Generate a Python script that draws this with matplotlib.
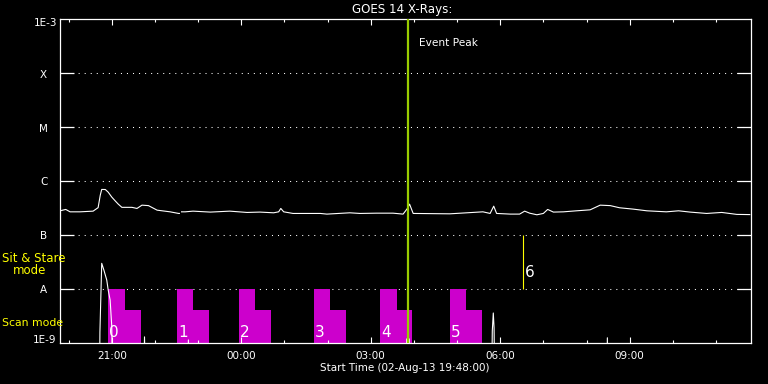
import numpy as np
import matplotlib
matplotlib.use("Agg")
import matplotlib.pyplot as plt
import matplotlib.dates as mdates
from matplotlib.ticker import NullLocator
from datetime import datetime, timedelta

# ---------------- data ----------------
x_start = "19:48"
x_end = "11:48"

# GOES long channel (1-8 A), flux in units of 1e-7 W/m^2
long_times = ["19:48", "19:56", "20:02", "20:16", "20:34", "20:41", "20:44", "20:46", "20:51", "20:55",
              "21:00", "21:05", "21:09", "21:14", "21:28", "21:35", "21:42", "21:51", "22:03", "22:21",
              "22:33", "22:34", "22:35", "22:37", "22:42", "22:53", "23:17", "23:44", "00:08", "00:26",
              "00:45", "00:52", "00:55", "00:59", "01:12", "01:50", "01:59", "02:31", "02:45", "03:08",
              "03:31", "03:45", "03:51", "03:54", "03:59", "04:50", "05:30", "05:36", "05:46", "05:51",
              "05:55", "06:14", "06:27", "06:34", "06:41", "06:51", "07:00", "07:06", "07:14", "07:28",
              "07:46", "08:05", "08:19", "08:33", "08:46", "09:05", "09:24", "09:51", "10:08", "10:24",
              "10:47", "11:08", "11:29", "11:47"]
long_flux_e7 = [2.82, 2.99, 2.70, 2.70, 2.78, 3.23, 5.51, 7.02, 7.00, 6.25,
                5.06, 4.27, 3.75, 3.27, 3.27, 3.12, 3.59, 3.52, 2.90, 2.70,
                2.52, 2.52, np.nan, 2.70, 2.70, 2.78, 2.67, 2.78, 2.63, 2.67,
                2.59, 2.70, 3.12, 2.70, 2.52, 2.52, 2.45, 2.59, 2.52, 2.55,
                2.55, 2.45, 3.12, 3.75, 2.52, 2.48, 2.67, 2.70, 2.52, 3.44,
                2.52, 2.45, 2.45, 2.78, 2.55, 2.38, 2.52, 2.99, 2.67, 2.70,
                2.82, 2.94, 3.59, 3.52, 3.21, 3.03, 2.82, 2.70, 2.82, 2.67,
                2.52, 2.63, 2.42, 2.40]

# GOES short channel (0.5-4 A), W/m^2 (values below 1e-9 fall off the plot)
short_times = ["19:48", "20:42.8", "20:43.5", "20:46", "20:49", "20:53", "20:55", "20:57.7", "21:00", "21:01",
               "21:44", "21:45.5", "21:47", "22:45", "22:46.5", "22:48", "03:49", "03:50", "03:51", "03:53",
               "03:53.6", "03:55", "05:48", "05:49", "05:50.4", "05:51.5", "05:52.5", "08:28", "08:29", "08:30",
               "11:48"]
short_flux = [1e-10, 1e-10, 1.6e-9, 3.0e-8, 2.25e-8, 1.47e-8, 9.6e-9, 6.25e-9, 2e-9, 1e-10,
              1e-10, 1.3e-9, 1e-10, 1e-10, 1.14e-9, 1e-10, 1e-10, 1.19e-9, 1e-10, 1e-10,
              1.19e-9, 1e-10, 1e-10, 1.67e-9, 3.6e-9, 1.9e-9, 1e-10, 1e-10, 1.25e-9, 1e-10,
              1e-10]

# Scan mode rasters
scan_labels = ["0", "1", "2", "3", "4", "5"]
scan_start = ["20:55", "22:31", "23:57", "01:41", "03:13", "04:50"]
scan_mid = ["21:18.5", "22:53.5", "00:19", "02:03.5", "03:37", "05:12.5"]
scan_end = ["21:40.5", "23:15", "00:41.5", "02:25.5", "03:57", "05:34.5"]
scan_high = 1e-8
scan_low = 4.1e-9

# Sit & stare observation
stare_label = "6"
stare_time = "06:32"
stare_range = [1e-8, 1e-7]

event_peak = "03:51.5"

ylevels = [1e-9, 1e-8, 1e-7, 1e-6, 1e-5, 1e-4, 1e-3]
ylabels = ["1E-9", "A", "B", "C", "M", "X", "1E-3"]


def t(s):
    h, m = s.split(":")
    h = int(h); m = float(m)
    d = datetime(2013, 8, 2) + timedelta(hours=h, minutes=m)
    if h < 19:
        d += timedelta(days=1)
    return d


W, H = 768, 384
fig = plt.figure(figsize=(W / 100, H / 100), dpi=100, facecolor="black")
ax = fig.add_axes([60 / W, 1 - 343 / H, (750.5 - 60) / W, (343 - 19.3) / H])
ax.set_facecolor("black")
ax.set_yscale("log")
ax.set_ylim(1e-9, 1e-3)
ax.set_xlim(t(x_start), t(x_end))

PX = 0.72  # one pixel in points

# grid dotted lines
for v in ylevels[1:-1]:
    ax.axhline(v, color="white", lw=0.75, linestyle=(0, (1, 4.8)), zorder=0.5)

# scan bars
for lab, s, m, e in zip(scan_labels, scan_start, scan_mid, scan_end):
    s0, m0, e0 = mdates.date2num(t(s)), mdates.date2num(t(m)), mdates.date2num(t(e))
    ax.bar(s0, scan_high - 1e-9, width=m0 - s0, bottom=1e-9, align="edge",
           color="#cc00cc", linewidth=0, zorder=1)
    ax.bar(m0, scan_low - 1e-9, width=e0 - m0, bottom=1e-9, align="edge",
           color="#cc00cc", linewidth=0, zorder=1)
    ax.annotate(lab, xy=(s0, 1.56e-9), xytext=(1 * PX, 0), textcoords="offset points",
                ha="left", va="center", color="white", fontsize=11, zorder=4)

# curves
ax.plot([t(s) for s in long_times], np.array(long_flux_e7) * 1e-7, color="white", lw=0.8, zorder=3)
ax.plot([t(s) for s in short_times], short_flux, color="white", lw=0.8, zorder=3)

# sit & stare
ax.vlines(t(stare_time), stare_range[0], stare_range[1], color="#ffff00", lw=0.8, zorder=3)
ax.annotate(stare_label, xy=(t(stare_time), 2.02e-8), xytext=(1.7 * PX, 0), textcoords="offset points",
            ha="left", va="center", color="white", fontsize=11)

# event peak
ax.axvline(t(event_peak), color="#99cc00", lw=1.6, zorder=3.5)
ax.annotate("Event Peak", xy=(t(event_peak), 1), xycoords=("data", "axes fraction"),
            xytext=(11.3 * PX, -23.7 * PX), textcoords="offset points",
            ha="left", va="center", color="white", fontsize=7.6)

# axes styling
for sp in ax.spines.values():
    sp.set_color("white")
    sp.set_linewidth(0.9)
ax.xaxis.set_major_locator(mdates.HourLocator(byhour=[0, 3, 6, 9, 12, 15, 18, 21]))
ax.xaxis.set_minor_locator(mdates.HourLocator(interval=1))
ax.xaxis.set_major_formatter(mdates.DateFormatter("%H:%M"))
ax.tick_params(axis="x", which="major", direction="in", length=6 * PX, width=0.8, color="white",
               top=True, bottom=True, labelcolor="white", labelsize=7.5, pad=6)
ax.tick_params(axis="x", which="minor", direction="in", length=3 * PX, width=0.8, color="white",
               top=True, bottom=True)
ax.set_yticks(ylevels[1:-1])
ax.yaxis.set_minor_locator(NullLocator())
ax.tick_params(axis="y", which="major", direction="in", length=14 * PX, width=0.9, color="white",
               left=True, right=True, labelleft=False)

# y labels
for v, lab in zip(ylevels, ylabels):
    if lab == "1E-3":
        ax.annotate(lab, xy=(0, v), xycoords=("axes fraction", "data"), xytext=(-2.7 * PX, -3.7 * PX),
                    textcoords="offset points", ha="right", va="center", color="white", fontsize=7.5)
    elif lab == "1E-9":
        ax.annotate(lab, xy=(0, v), xycoords=("axes fraction", "data"), xytext=(-4 * PX, 3.3 * PX),
                    textcoords="offset points", ha="right", va="center", color="white", fontsize=7.5)
    else:
        ax.annotate(lab, xy=(0, v), xycoords=("axes fraction", "data"), xytext=(-16.3 * PX, -1.3 * PX),
                    textcoords="offset points", ha="center", va="center", color="white", fontsize=7.5)

# texts
fig.text(401.7 / W, 1 - 9 / H, "GOES 14 X-Rays:", ha="center", va="center", color="white", fontsize=8.6)
fig.text(405 / W, 1 - 368 / H, "Start Time (02-Aug-13 19:48:00)", ha="center", va="center",
         color="white", fontsize=7.5)
fig.text(1.7 / W, 1 - 258.5 / H, "Sit & Stare", ha="left", va="center", color="#ffff00", fontsize=8.5)
fig.text(12.7 / W, 1 - 271 / H, "mode", ha="left", va="center", color="#ffff00", fontsize=8.5)
fig.text(1.7 / W, 1 - 323.3 / H, "Scan mode", ha="left", va="center", color="#ffff00", fontsize=7.8)

fig.savefig("out.png", dpi=100, facecolor="black")
